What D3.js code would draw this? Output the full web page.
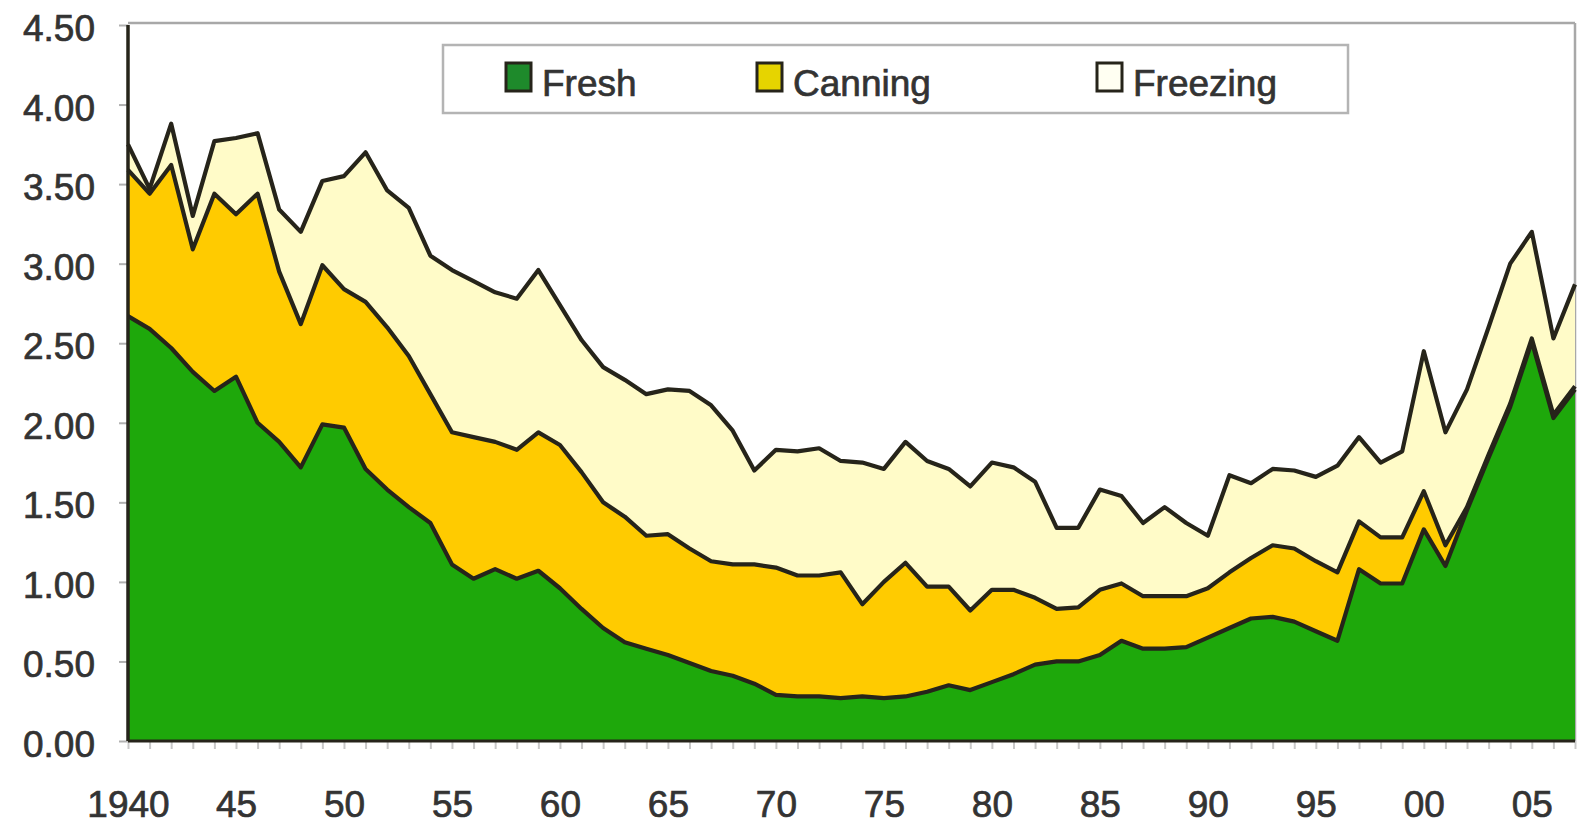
<!DOCTYPE html>
<html>
<head>
<meta charset="utf-8">
<script src="https://cdn.jsdelivr.net/npm/d3@7"></script>
<style>
  body { margin: 0; background: #fff; }
  text { font-family: "Liberation Sans", Arial, sans-serif; fill: #333; stroke: #333; stroke-width: 0.7px; }
</style>
</head>
<body>
<svg></svg>
<script>
width = 1579;
height = 824;

// data, pounds per person
let years = d3.range(1940, 2008);
let fresh = [2.67, 2.59, 2.47, 2.32, 2.20, 2.29, 2.00, 1.88, 1.72, 1.99,
             1.97, 1.71, 1.58, 1.47, 1.37, 1.11, 1.02, 1.08, 1.02, 1.07,
             0.96, 0.83, 0.71, 0.62, 0.58, 0.54, 0.49, 0.44, 0.41, 0.36,
             0.29, 0.28, 0.28, 0.27, 0.28, 0.27, 0.28, 0.31, 0.35, 0.32,
             0.37, 0.42, 0.48, 0.50, 0.50, 0.54, 0.63, 0.58, 0.58, 0.59,
             0.65, 0.71, 0.77, 0.78, 0.75, 0.69, 0.63, 1.08, 0.99, 0.99,
             1.33, 1.10, 1.45, 1.78, 2.10, 2.51, 2.03, 2.21];
let canning = [0.92, 0.85, 1.15, 0.77, 1.24, 1.02, 1.44, 1.07, 0.90, 1.00,
               0.87, 1.05, 1.02, 0.95, 0.81, 0.83, 0.89, 0.80, 0.81, 0.87,
               0.90, 0.86, 0.79, 0.79, 0.71, 0.76, 0.72, 0.69, 0.70, 0.75,
               0.80, 0.76, 0.76, 0.79, 0.58, 0.73, 0.84, 0.66, 0.62, 0.50,
               0.58, 0.53, 0.42, 0.33, 0.34, 0.41, 0.36, 0.33, 0.33, 0.32,
               0.31, 0.35, 0.38, 0.45, 0.46, 0.44, 0.43, 0.30, 0.29, 0.29,
               0.24, 0.13, 0.02, 0.02, 0.02, 0.02, 0.02, 0.02];
let freezing = [0.16, 0.03, 0.26, 0.21, 0.33, 0.48, 0.38, 0.39, 0.58, 0.53,
                0.71, 0.94, 0.86, 0.93, 0.87, 1.02, 0.98, 0.94, 0.95, 1.02,
                0.88, 0.83, 0.85, 0.86, 0.89, 0.91, 0.99, 0.98, 0.84, 0.59,
                0.74, 0.78, 0.80, 0.70, 0.89, 0.71, 0.76, 0.79, 0.74, 0.78,
                0.80, 0.77, 0.73, 0.51, 0.50, 0.63, 0.55, 0.46, 0.56, 0.46,
                0.33, 0.61, 0.47, 0.48, 0.49, 0.53, 0.67, 0.53, 0.47, 0.54,
                0.88, 0.71, 0.74, 0.80, 0.88, 0.67, 0.48, 0.64];

let seriesNames = ["Fresh", "Canning", "Freezing"];
let seriesColors = ["#1ea80b", "#ffcb00", "#fffbc8"];
let swatchColors = ["#1e8a2b", "#e6d400", "#fffff2"];

let yTicks = [0, 0.5, 1, 1.5, 2, 2.5, 3, 3.5, 4, 4.5];
let xTickYears = [1940, 1945, 1950, 1955, 1960, 1965, 1970, 1975, 1980, 1985, 1990, 1995, 2000, 2005];
let xTickLabels = ["1940", "45", "50", "55", "60", "65", "70", "75", "80", "85", "90", "95", "00", "05"];

let rows = years.map((yr, i) => ({year: yr, Fresh: fresh[i], Canning: canning[i], Freezing: freezing[i]}));

let svg = d3.select("svg").attr("width", width).attr("height", height);

let plotLeft = 128, plotRight = 1575, plotTop = 25, plotBottom = 741;

let x = d3.scaleLinear().domain([1940, 2007]).range([plotLeft, plotRight]);
let y = d3.scaleLinear().domain([0, 4.5]).range([plotBottom, plotTop]);

let stacked = d3.stack().keys(seriesNames)(rows);

let area = d3.area()
    .x(d => x(d.data.year))
    .y0(d => y(d[0]))
    .y1(d => y(d[1]));

let edge = d3.line()
    .x(d => x(d.data.year))
    .y(d => y(d[1]));

// plot frame
svg.append("line")
    .attr("x1", plotLeft).attr("x2", plotRight)
    .attr("y1", plotTop - 2).attr("y2", plotTop - 2)
    .style("stroke", "#a8a8a8").style("stroke-width", 2.5);
svg.append("line")
    .attr("x1", plotRight).attr("x2", plotRight)
    .attr("y1", plotTop - 2).attr("y2", plotBottom)
    .style("stroke", "#a8a8a8").style("stroke-width", 2.5);

svg.append("g").selectAll("path")
    .data(stacked)
    .join("path")
    .attr("d", area)
    .style("fill", (d, i) => seriesColors[i]);

svg.append("g").selectAll("path")
    .data(stacked)
    .join("path")
    .attr("d", edge)
    .style("fill", "none")
    .style("stroke", "#26241a")
    .style("stroke-width", 4.2)
    .style("stroke-linejoin", "round");

// y axis
let yAxis = svg.append("g")
    .attr("transform", "translate(" + plotLeft + ",0)")
    .call(d3.axisLeft(y).tickValues(yTicks).tickFormat(d3.format(".2f")).tickSize(9).tickPadding(24));
yAxis.select(".domain").remove();
yAxis.selectAll(".tick line").style("stroke", "#b0b0b0").style("stroke-width", 2);
yAxis.selectAll("text").style("font-size", "37px").attr("dy", "0.42em");

svg.append("line")
    .attr("x1", plotLeft).attr("x2", plotLeft)
    .attr("y1", plotTop).attr("y2", plotBottom)
    .style("stroke", "#26241a").style("stroke-width", 3.5);

// x axis
let xAxis = svg.append("g")
    .attr("transform", "translate(0," + plotBottom + ")")
    .call(d3.axisBottom(x).tickValues(years).tickSize(8).tickPadding(42)
        .tickFormat(d => {
            let i = xTickYears.indexOf(d);
            return i < 0 ? "" : xTickLabels[i];
        }));
xAxis.select(".domain").remove();
xAxis.selectAll(".tick line").style("stroke", "#c8c8c8").style("stroke-width", 2);
xAxis.selectAll("text").style("font-size", "37px");

svg.append("line")
    .attr("x1", plotLeft).attr("x2", plotRight)
    .attr("y1", plotBottom).attr("y2", plotBottom)
    .style("stroke", "#26241a").style("stroke-width", 3);

// legend
let legend = svg.append("g");
legend.append("rect")
    .attr("x", 443).attr("y", 45)
    .attr("width", 905).attr("height", 68)
    .style("fill", "#fff")
    .style("stroke", "#b4b4b4")
    .style("stroke-width", 2.5);

let legendX = [506, 757, 1097];
seriesNames.forEach((name, i) => {
    legend.append("rect")
        .attr("x", legendX[i]).attr("y", 63)
        .attr("width", 25).attr("height", 28)
        .style("fill", swatchColors[i])
        .style("stroke", "#26241a")
        .style("stroke-width", 3);
    legend.append("text")
        .attr("x", legendX[i] + 36).attr("y", 96)
        .style("font-size", "37px")
        .text(name);
});
</script>
</body>
</html>
